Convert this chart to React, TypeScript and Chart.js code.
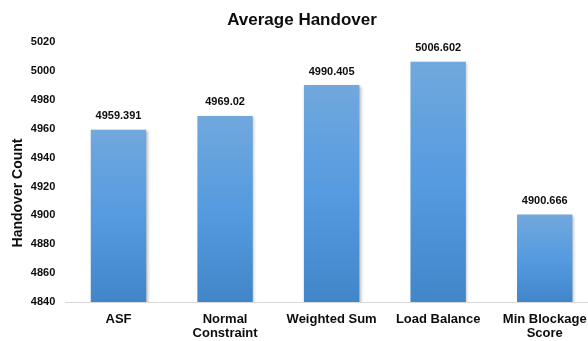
import React, { useEffect, useRef } from "react";
import { Chart, registerables } from "chart.js";

Chart.register(...registerables);

const categories: string[][] = [
  ["ASF"],
  ["Normal", "Constraint"],
  ["Weighted Sum"],
  ["Load Balance"],
  ["Min Blockage", "Score"],
];
const values: number[] = [4959.391, 4969.02, 4990.405, 5006.602, 4900.666];
const valueLabels: string[] = ["4959.391", "4969.02", "4990.405", "5006.602", "4900.666"];
const yMin = 4840;
const yMax = 5020;
const yStep = 20;
const chartTitle = "Average Handover";
const yTitle = "Handover Count";

const FONT = '"Liberation Sans", Arial, sans-serif';
const TEXT = "#0d0d0d";

export default function App() {
  const ref = useRef<HTMLCanvasElement | null>(null);

  useEffect(() => {
    if (!ref.current) return;
    const extras = {
      id: "extras",
      beforeDatasetsDraw(chart: any) {
        const c = chart.ctx;
        c.save();
        c.shadowColor = "rgba(0,0,0,0.28)";
        c.shadowBlur = 3;
        c.shadowOffsetX = 1.5;
        c.shadowOffsetY = 1;
      },
      afterDatasetsDraw(chart: any) {
        const c = chart.ctx;
        c.restore();
        const meta = chart.getDatasetMeta(0);
        c.save();
        c.font = `bold 11px ${FONT}`;
        c.fillStyle = TEXT;
        c.textAlign = "center";
        c.textBaseline = "alphabetic";
        meta.data.forEach((bar: any, i: number) => {
          c.fillText(valueLabels[i], bar.x, bar.y - 10.5);
        });
        c.restore();
        // y axis title
        c.save();
        c.font = `bold 14px ${FONT}`;
        c.fillStyle = TEXT;
        c.textAlign = "center";
        c.textBaseline = "middle";
        c.translate(18.5, 193);
        c.rotate(-Math.PI / 2);
        c.fillText(yTitle, 0, 0);
        c.restore();
      },
    };

    const chart = new Chart(ref.current, {
      type: "bar",
      data: {
        labels: categories,
        datasets: [
          {
            data: values,
            backgroundColor: (ctx: any) => {
              const ch = ctx.chart;
              const y = ch.scales && ch.scales.y;
              if (!y || ctx.type !== "data" || !ch.chartArea) return "#5599dd";
              const top = y.getPixelForValue(ctx.raw);
              const bottom = y.getPixelForValue(yMin);
              const g = ch.ctx.createLinearGradient(0, top, 0, bottom);
              g.addColorStop(0, "#71a8dd");
              g.addColorStop(0.5, "#559be0");
              g.addColorStop(1, "#4186c9");
              return g;
            },
            borderWidth: 0,
            categoryPercentage: 1,
            barPercentage: 0.52,
          },
        ],
      },
      options: {
        responsive: false,
        animation: false,
        layout: { padding: { left: 6, right: 2, top: 0, bottom: 0 } },
        plugins: {
          legend: { display: false },
          tooltip: { enabled: false },
          title: {
            display: true,
            text: chartTitle,
            color: TEXT,
            font: { family: FONT, size: 17, weight: "bold", lineHeight: 1.2 },
            padding: { top: 10, bottom: 12 },
          },
        },
        scales: {
          x: {
            grid: { display: false, drawTicks: false },
            border: { display: true, color: "#d9d9d9", width: 1 },
            ticks: {
              color: TEXT,
              padding: 10,
              maxRotation: 0,
              autoSkip: false,
              font: { family: FONT, size: 13, weight: "bold", lineHeight: 1.08 },
            },
            afterFit: (scale: any) => {
              scale.height = 39;
            },
          },
          y: {
            min: yMin,
            max: yMax,
            grid: { display: false, drawTicks: false },
            border: { display: false },
            ticks: {
              stepSize: yStep,
              color: TEXT,
              padding: 10,
              font: { family: FONT, size: 11, weight: "bold" },
              callback: (v: any) => String(v),
            },
            afterFit: (scale: any) => {
              scale.width = 59.25;
            },
          },
        },
      },
      plugins: [extras],
    } as any);
    return () => chart.destroy();
  }, []);

  return (
    <div
      style={{
        position: "fixed",
        left: 0,
        top: 0,
        width: 588,
        height: 341,
        overflow: "hidden",
        background: "#fff",
      }}
    >
      <canvas ref={ref} width={600} height={341} style={{ width: 600, height: 341, display: "block" }} />
    </div>
  );
}
